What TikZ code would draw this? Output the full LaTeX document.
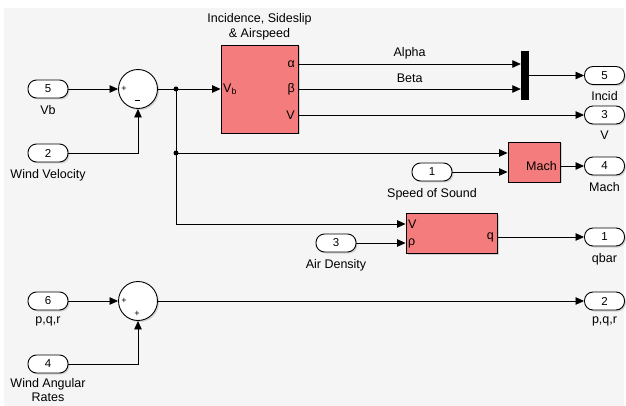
\documentclass[tikz,border=0pt]{standalone}
\usepackage{fontspec}
\setmainfont{Liberation Sans}
\usetikzlibrary{arrows.meta,positioning,shadows}
\definecolor{blkred} {RGB}{245,124,124}
\definecolor{canvas} {RGB}{245,245,245}
\tikzset{
  shd/.style  ={drop shadow={shadow xshift=1.5pt,shadow yshift=-1.5pt,opacity=0.3}},
  blk/.style  ={rectangle,draw,fill=blkred,line width=0.9pt,inner sep=0pt,shd},
  port/.style ={rectangle,draw,fill=white,rounded corners=8.5pt,line width=0.9pt,
                 minimum width=40pt,minimum height=18pt,inner sep=0pt,
                 font=\fontsize{11.5}{12}\selectfont,shd},
  add/.style  ={circle,draw,fill=white,minimum size=39pt,inner sep=0pt,
                 line width=0.9pt,shd},
  mux/.style  ={rectangle,fill=black,minimum width=8pt,minimum height=49pt,inner sep=0pt},
  sig/.style  ={-{Triangle[length=8.5pt,width=7.5pt]},line width=0.8pt},
  wire/.style ={line width=0.8pt},
  lbl/.style  ={font=\fontsize{12.5}{15.5}\selectfont,inner sep=0pt,align=center},
  pin/.style  ={font=\fontsize{12.5}{12}\selectfont,inner sep=0pt},
  sgn/.style  ={font=\fontsize{9}{9}\selectfont,inner sep=0pt},
  dot/.style  ={circle,fill,inner sep=0pt,minimum size=5pt},
}

\begin{document}
\begin{tikzpicture}[x=1pt,y=-1pt]
  \useasboundingbox (0,0) rectangle (626,406);
  \fill[canvas] (4,8) rectangle (624,406);
  % inports
  \node[port] (inVb)    at (48,89)  {5};
  \node[lbl,below=6.5pt of inVb]    (lVb)    {Vb};
  \node[port] (inWind)  at (48,153) {2};
  \node[lbl,below=6.5pt of inWind]  (lWind)  {Wind Velocity};
  \node[port] (inPqr)   at (48,301) {6};
  \node[lbl,below=6.5pt of inPqr]   (lPqr)   {p,q,r};
  \node[port] (inWrate) at (48,364) {4};
  \node[lbl,below=4.5pt of inWrate,font=\fontsize{12.5}{14.5}\selectfont] (lWrate) {Wind Angular\\Rates};
  \node[port] (inSnd)   at (432,172) {1};
  \node[lbl,below=6.5pt of inSnd]   (lSnd)   {Speed of Sound};
  \node[port] (inRho)   at (336,243) {3};
  \node[lbl,below=6.5pt of inRho]   (lRho)   {Air Density};
  % outports
  \node[port] (outInc)  at (604.5,75.5) {5};
  \node[lbl,below=6.5pt of outInc]  (lInc)   {Incid};
  \node[port] (outV)    at (604.5,115) {3};
  \node[lbl,below=6.5pt of outV]    (lV)     {V};
  \node[port] (outMach) at (604.5,166) {4};
  \node[lbl,below=6.5pt of outMach] (lMach)  {Mach};
  \node[port] (outQ)    at (604.5,237) {1};
  \node[lbl,below=6.5pt of outQ]    (lQ)     {qbar};
  \node[port] (outPqr)  at (604.5,301) {2};
  \node[lbl,below=6.5pt of outPqr]  (lPqr2)  {p,q,r};
  % sums
  \node[add] (sum1) at (138,89) {};
  \node[sgn] (s1a) at ([xshift=-14pt]sum1.center) {+};
  \node[sgn] (s1b) at ([xshift=-1pt,yshift=-11pt]sum1.center) {\rule{5pt}{0.9pt}};
  \node[add] (sum2) at (138,301) {};
  \node[sgn] (s2a) at ([xshift=-14pt]sum2.center) {+};
  \node[sgn] (s2b) at ([xshift=-1pt,yshift=-13pt]sum2.center) {+};
  % blocks
  \node[blk,minimum width=77pt,minimum height=88pt] (inc) at (259.5,89) {};
  \node[lbl,above=4pt of inc] (tInc) {Incidence, Sideslip\\\& Airspeed};
  \node[pin,anchor=west] (pVb)  at (223,89)  {V\textsubscript{b}};
  \node[pin,anchor=east] (pA)   at (295,64)  {α};
  \node[pin,anchor=east] (pB)   at (295,89)  {β};
  \node[pin,anchor=east] (pV)   at (295,115) {V};
  \node[mux] (mx) at (525,75.5) {};
  \node[blk,minimum width=52pt,minimum height=40pt] (mach) at (534,162) {};
  \node[pin,anchor=east] (pMach) at (557,166) {Mach};
  \node[blk,minimum width=91pt,minimum height=40pt] (qb) at (451.5,233) {};
  \node[pin,anchor=west] (qbV) at (408,224) {V};
  \node[pin,anchor=west] (qbR) at (408,243) {ρ};
  \node[pin,anchor=east] (qbQ) at (494,237) {q};
  \node[dot] (d1) at (176,89)  {};
  \node[dot] (d2) at (176,153) {};
  % wires
  \draw[sig]  (inVb.east)   -- (sum1.west);
  \draw[sig]  (inWind.east) -| (sum1.south);
  \draw[sig]  (sum1.east)   -- (pVb -| inc.west);
  \draw[sig]  (pA -| inc.east) -- node[lbl,above=5pt]{Alpha} (pA -| mx.west);
  \draw[sig]  (pB -| inc.east) -- node[lbl,above=6pt]{Beta}  (pB -| mx.west);
  \draw[sig]  (mx.east)     -- (outInc.west);
  \draw[sig]  (pV -| inc.east) -- (outV.west);
  \draw[wire] (d1.center)   -- (d2.center);
  \draw[sig]  (d2.center)   -- (d2 -| mach.west);
  \draw[sig]  (d2.center)   |- (qbV -| qb.west);
  \draw[sig]  (inSnd.east)  -- (inSnd -| mach.west);
  \draw[sig]  (pMach -| mach.east) -- (outMach.west);
  \draw[sig]  (inRho.east)  -- (qbR -| qb.west);
  \draw[sig]  (qbQ -| qb.east) -- (outQ.west);
  \draw[sig]  (inPqr.east)  -- (sum2.west);
  \draw[sig]  (inWrate.east) -| (sum2.south);
  \draw[sig]  (sum2.east)   -- (outPqr.west);
\end{tikzpicture}
\end{document}
